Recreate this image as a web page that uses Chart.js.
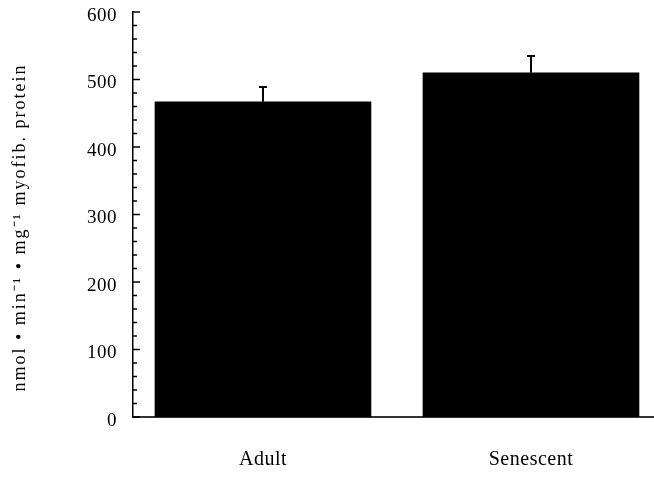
<!DOCTYPE html>
<html><head><meta charset="utf-8">
<script src="https://cdn.jsdelivr.net/npm/chart.js@4/dist/chart.umd.min.js"></script>
<style>html,body{margin:0;padding:0;background:#fff;overflow:hidden}#wrap{width:654px;height:477px}</style>
</head><body><div id="wrap"><canvas id="c" width="654" height="477"></canvas></div>
<script>
const categories = ['Adult', 'Senescent'];
const activity = [467, 510];
const sem = [22, 25];
const yMin = 0, yMax = 600, yMajorStep = 100, yMinorStep = 20;
const yTitle = 'nmol • min⁻¹ • mg⁻¹ myofib. protein';

const SERIF = "'Liberation Serif', 'Times New Roman', serif";

function spaced(fn, px, dy) {
  return function () {
    const ctx = this.ctx;
    ctx.save();
    ctx.letterSpacing = px;
    if (dy) ctx.translate(0, dy);
    fn.apply(this, arguments);
    ctx.restore();
  };
}

const innerTicks = {
  id: 'innerTicks',
  afterDraw(chart) {
    const y = chart.scales.y, ctx = chart.ctx, x0 = chart.chartArea.left;
    ctx.save();
    ctx.strokeStyle = '#000';
    ctx.lineWidth = 1.5;
    y.ticks.forEach(t => {
      const py = y.getPixelForValue(t.value);
      const len = (t.value % yMajorStep === 0) ? 7 : 4;
      ctx.beginPath();
      ctx.moveTo(x0, py);
      ctx.lineTo(x0 + len, py);
      ctx.stroke();
    });
    ctx.restore();
  }
};

const errorBars = {
  id: 'errorBars',
  afterDatasetsDraw(chart) {
    const xs = chart.scales.x, ys = chart.scales.y, ctx = chart.ctx;
    ctx.save();
    ctx.strokeStyle = '#000';
    ctx.lineWidth = 2;
    activity.forEach((v, i) => {
      const px = xs.getPixelForValue(i + 1);
      const y1 = ys.getPixelForValue(v);
      const y2 = ys.getPixelForValue(v + sem[i]);
      ctx.beginPath();
      ctx.moveTo(px, y1);
      ctx.lineTo(px, y2);
      ctx.moveTo(px - 4, y2);
      ctx.lineTo(px + 4, y2);
      ctx.stroke();
    });
    ctx.restore();
  }
};

new Chart(document.getElementById('c'), {
  type: 'bar',
  data: {
    datasets: [{
      data: activity.map((v, i) => ({ x: i + 1, y: v })),
      backgroundColor: '#000',
      borderWidth: 0,
      barThickness: 216
    }]
  },
  options: {
    responsive: false,
    animation: false,
    layout: { padding: { top: 0, right: 0, left: 0, bottom: 0 } },
    plugins: { legend: { display: false }, tooltip: { enabled: false } },
    scales: {
      x: {
        type: 'linear',
        offset: false,
        bounds: 'data',
        min: 0.515,
        max: 2.459,
        afterBuildTicks: s => {
          s.ticks = categories.map((c, i) => ({ value: i + 1 }));
          if (!s._spaced) { s.drawLabels = spaced(s.drawLabels, '0.5px'); s._spaced = true; }
        },
        afterFit: s => { s.height = 60; },
        grid: { display: false, drawTicks: false, offset: false },
        border: { display: true, color: '#333', width: 2 },
        ticks: {
          autoSkip: false,
          maxRotation: 0,
          padding: 31,
          color: '#000',
          font: { family: SERIF, size: 20 },
          callback: v => categories[Math.round(v) - 1]
        }
      },
      y: {
        min: yMin,
        max: yMax,
        afterBuildTicks: s => {
          if (!s._spaced) {
            s.drawLabels = spaced(s.drawLabels, '0.5px');
            s.drawTitle = spaced(s.drawTitle, '2px', 13);
            s._spaced = true;
          }
        },
        afterFit: s => { s.width = 133; s.paddingTop = 12; },
        grid: { display: false, drawTicks: false },
        border: { display: true, color: '#000', width: 1.5 },
        ticks: {
          stepSize: yMinorStep,
          autoSkip: false,
          padding: 16,
          labelOffset: 4,
          color: '#000',
          font: { family: SERIF, size: 19 },
          callback: v => (v % yMajorStep === 0 ? String(v) : '')
        },
        title: {
          display: true,
          text: yTitle,
          color: '#000',
          font: { family: SERIF, size: 18 },
          padding: { top: 9, bottom: 0 }
        }
      }
    }
  },
  plugins: [innerTicks, errorBars]
});
</script></body></html>
